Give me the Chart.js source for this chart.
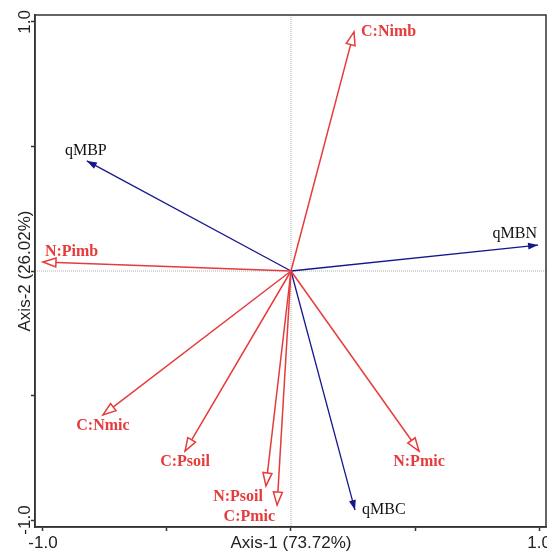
<!DOCTYPE html>
<html>
<head>
<meta charset="utf-8">
<script src="https://cdn.jsdelivr.net/npm/chart.js@4.4.1/dist/chart.umd.min.js"></script>
<style>
  html, body { margin: 0; padding: 0; background: #fff; }
  #wrap { width: 547px; height: 554px; }
</style>
</head>
<body>
<div id="wrap"><canvas id="rda"></canvas></div>
<script>
// explanatory (red, open heads) and response (blue, filled heads) vectors
const envNames = ['C:Nimb', 'N:Pimb', 'C:Nmic', 'C:Psoil', 'N:Psoil', 'C:Pmic', 'N:Pmic']
const envAxis1 = [0.254, -1.0, -0.758, -0.427, -0.101, -0.056, 0.516]
const envAxis2 = [0.960, 0.036, -0.578, -0.723, -0.863, -0.940, -0.723]

const respNames = ['qMBP', 'qMBN', 'qMBC']
const respAxis1 = [-0.823, 0.996, 0.258]
const respAxis2 = [0.442, 0.104, -0.960]

const tickValues = [-1, -0.5, 0, 0.5, 1]
const xTickLabels = { '-1': '-1.0', '0': 'Axis-1 (73.72%)', '1': '1.0' }
const yTickLabels = { '-1': '-1.0', '0': 'Axis-2 (26.02%)', '1': '1.0' }

const RED = '#e63b3b'
const BLUE = '#17178c'

// where each name sits next to its arrow tip: [align, dx, dy]
const labelPlace = {
  'C:Nimb': ['left', 7, 0],
  'N:Pimb': ['left', 2, -10],
  'C:Nmic': ['center', 0, 11],
  'C:Psoil': ['center', 0, 11],
  'N:Psoil': ['right', -3, 11],
  'C:Pmic': ['right', -2, 12],
  'N:Pmic': ['center', 0, 11],
  'qMBP': ['center', -1, -10],
  'qMBN': ['right', -1, -11],
  'qMBC': ['left', 7, 0]
}

const datasets = []
envNames.forEach((n, i) => {
  datasets.push({ label: n, kind: 'env', data: [{ x: 0, y: 0 }, { x: envAxis1[i], y: envAxis2[i] }],
    showLine: true, borderColor: RED, borderWidth: 1.5, pointRadius: 0 })
})
respNames.forEach((n, i) => {
  datasets.push({ label: n, kind: 'resp', data: [{ x: 0, y: 0 }, { x: respAxis1[i], y: respAxis2[i] }],
    showLine: true, borderColor: BLUE, borderWidth: 1.3, pointRadius: 0 })
})

const biplot = {
  id: 'biplot',
  beforeDatasetsDraw(chart) {
    const { ctx, chartArea: a, scales: { x, y } } = chart
    ctx.save()
    ctx.strokeStyle = '#b0b0b0'
    ctx.lineWidth = 1
    ctx.setLineDash([1, 1])
    const x0 = x.getPixelForValue(0), y0 = y.getPixelForValue(0)
    ctx.beginPath()
    ctx.moveTo(x0, a.top); ctx.lineTo(x0, a.bottom)
    ctx.moveTo(a.left, y0); ctx.lineTo(a.right, y0)
    ctx.stroke()
    ctx.restore()
  },
  afterDatasetsDraw(chart) {
    const { ctx, chartArea: a, scales: { x, y } } = chart
    chart.data.datasets.forEach(ds => {
      const p = ds.data[1]
      const tx = x.getPixelForValue(p.x), ty = y.getPixelForValue(p.y)
      const ox = x.getPixelForValue(0), oy = y.getPixelForValue(0)
      const ang = Math.atan2(ty - oy, tx - ox)
      const env = ds.kind === 'env'
      const len = env ? 13 : 10, hw = env ? 4.5 : 3.5
      const bx = tx - len * Math.cos(ang), by = ty - len * Math.sin(ang)
      const nx = -Math.sin(ang) * hw, ny = Math.cos(ang) * hw
      ctx.save()
      ctx.beginPath()
      ctx.moveTo(tx, ty)
      ctx.lineTo(bx + nx, by + ny)
      ctx.lineTo(bx - nx, by - ny)
      ctx.closePath()
      if (env) {
        ctx.fillStyle = '#fff'
        ctx.fill()
        ctx.strokeStyle = RED
        ctx.lineWidth = 1.5
        ctx.stroke()
      } else {
        ctx.fillStyle = BLUE
        ctx.fill()
      }
      const pl = labelPlace[ds.label]
      ctx.font = env ? 'bold 16px "Liberation Serif", "Times New Roman", serif' : '16px "Liberation Serif", "Times New Roman", serif'
      ctx.fillStyle = env ? RED : '#111'
      ctx.textAlign = pl[0]
      ctx.textBaseline = 'middle'
      ctx.fillText(ds.label, tx + pl[1], ty + pl[2])
      ctx.restore()
    })
    // frame
    ctx.save()
    ctx.strokeStyle = '#333'
    ctx.lineWidth = 1.5
    ctx.strokeRect(a.left, a.top, a.right - a.left, a.bottom - a.top)
    // rotated y labels
    ctx.font = '17px "Liberation Sans", Arial, sans-serif'
    ctx.fillStyle = '#222'
    ctx.textAlign = 'center'
    ctx.textBaseline = 'alphabetic'
    tickValues.forEach(v => {
      const t = yTickLabels[String(v)]
      if (!t) return
      ctx.save()
      ctx.translate(30, y.getPixelForValue(v))
      ctx.rotate(-Math.PI / 2)
      ctx.fillText(t, 0, 0)
      ctx.restore()
    })
    ctx.restore()
  }
}

new Chart(document.getElementById('rda'), {
  type: 'scatter',
  data: { datasets },
  options: {
    responsive: true,
    maintainAspectRatio: false,
    animation: false,
    layout: { padding: { top: 15, right: 1, left: 0, bottom: 0 } },
    plugins: { legend: { display: false }, tooltip: { enabled: false } },
    scales: {
      x: {
        min: -1.032, max: 1.028,
        afterBuildTicks: s => { s.ticks = tickValues.map(v => ({ value: v })) },
        afterFit: s => { s.height = 27; s.paddingLeft = 0; s.paddingRight = 0 },
        grid: { drawOnChartArea: false, drawTicks: true, tickLength: 4, tickColor: '#333', tickWidth: 1.5 },
        border: { display: true, color: '#333', width: 1.5 },
        ticks: {
          autoSkip: false, maxRotation: 0, padding: 2,
          color: '#222',
          font: { family: '"Liberation Sans", Arial, sans-serif', size: 17 },
          callback: v => xTickLabels[String(v)] || ''
        }
      },
      y: {
        min: -1.028, max: 1.028,
        afterBuildTicks: s => { s.ticks = tickValues.map(v => ({ value: v })) },
        afterFit: s => { s.width = 35; s.paddingTop = 0; s.paddingBottom = 0 },
        grid: { drawOnChartArea: false, drawTicks: true, tickLength: 4, tickColor: '#333', tickWidth: 1.5 },
        border: { display: true, color: '#333', width: 1.5 },
        ticks: { display: false }
      }
    }
  },
  plugins: [biplot]
})
</script>
</body>
</html>
